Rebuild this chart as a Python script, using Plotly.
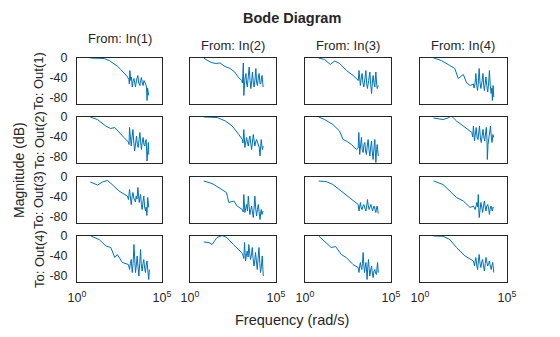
import numpy as np
import plotly.graph_objects as go
from plotly.subplots import make_subplots

# ---- data: log10(frequency in rad/s) and magnitude (dB) per I/O pair ----
w11 = [0.78,1.0,1.3,1.6,1.9,2.18,2.4,2.57,2.8,2.96,3.05,3.08,3.11,3.16,3.2,3.25,3.3,3.35,3.4,3.44,3.5,3.54,3.58,3.63,3.7,3.74,3.79,3.84,3.89,3.94,3.99,4.04,4.09,4.12,4.15,4.18,4.22]
m11 = [0,0,0,-1,-5,-11,-17,-23,-31,-37,-43,-52,-25,-45,-38,-58,-46,-41,-50,-58,-44,-40,-35,-50,-55,-45,-39,-50,-55,-45,-48,-52,-58,-85,-60,-65,-75]

w12 = [0.79,1.17,1.46,1.75,2.04,2.33,2.6,2.8,3.0,3.05,3.1,3.13,3.18,3.25,3.29,3.33,3.38,3.44,3.49,3.54,3.58,3.63,3.68,3.73,3.78,3.83,3.87,3.92,3.97,4.02,4.07,4.12,4.16,4.19,4.25]
m12 = [0,-8,-11,-10,-17,-21,-28,-38,-45,-50,-10,-75,-45,-31,-50,-58,-40,-18,-45,-61,-48,-28,-50,-58,-42,-21,-48,-55,-40,-31,-52,-51,-38,-35,-58]

w13 = [0.8,1.14,1.47,1.73,2.02,2.41,2.8,3.1,3.14,3.18,3.22,3.27,3.32,3.37,3.42,3.48,3.54,3.58,3.63,3.7,3.77,3.82,3.87,3.92,3.96,4.01,4.06,4.09,4.12,4.16,4.2,4.26]
m13 = [0,-3,-13,-6,-11,-25,-35,-45,-25,-48,-55,-40,-31,-50,-58,-42,-25,-50,-61,-45,-28,-52,-71,-48,-35,-50,-58,-40,-28,-50,-61,-55]

w14 = [0.78,1.23,1.71,2.0,2.2,2.49,2.68,2.88,3.07,3.1,3.13,3.17,3.21,3.26,3.31,3.35,3.4,3.45,3.5,3.56,3.62,3.66,3.7,3.75,3.79,3.84,3.89,3.94,3.99,4.04,4.09,4.13,4.16,4.2,4.24]
m14 = [0,-5,-15,-21,-41,-33,-50,-55,-52,-60,-58,-48,-31,-55,-65,-50,-21,-50,-61,-48,-31,-55,-65,-50,-38,-55,-68,-52,-25,-55,-71,-60,-85,-55,-78]

w21 = [0.78,1.2,1.69,1.98,2.22,2.47,2.76,3.02,3.06,3.09,3.14,3.19,3.24,3.29,3.34,3.39,3.45,3.5,3.55,3.6,3.65,3.7,3.75,3.79,3.84,3.89,3.94,3.99,4.03,4.07,4.12,4.16,4.2,4.22]
m21 = [0,-5,-18,-23,-21,-31,-41,-50,-55,-21,-45,-58,-40,-25,-50,-68,-52,-38,-55,-61,-45,-31,-52,-65,-50,-41,-55,-58,-48,-45,-88,-60,-51,-75]

w22 = [0.8,1.3,1.58,2.06,2.45,2.84,3.04,3.08,3.13,3.19,3.24,3.29,3.34,3.39,3.44,3.48,3.53,3.58,3.63,3.68,3.73,3.77,3.82,3.87,3.92,3.97,4.02,4.07,4.11,4.14,4.19,4.22,4.25]
m22 = [0,0,-1,-8,-18,-35,-45,-52,-25,-61,-48,-41,-50,-58,-45,-38,-52,-65,-50,-35,-48,-58,-50,-45,-50,-55,-60,-78,-55,-45,-60,-65,-58]

w23 = [0.8,1.14,1.62,2.01,2.21,2.4,2.7,2.99,3.09,3.13,3.18,3.23,3.28,3.33,3.38,3.43,3.48,3.52,3.57,3.62,3.67,3.72,3.77,3.82,3.87,3.91,3.96,4.01,4.06,4.09,4.12,4.16,4.2,4.26]
m23 = [0,-5,-15,-28,-45,-48,-55,-65,-62,-31,-75,-60,-41,-65,-71,-55,-51,-68,-75,-58,-45,-65,-78,-60,-48,-70,-85,-62,-45,-70,-91,-65,-55,-78]

w24 = [0.78,1.32,1.61,1.81,2.1,2.49,2.98,3.03,3.07,3.13,3.18,3.23,3.28,3.33,3.38,3.42,3.47,3.52,3.57,3.62,3.67,3.72,3.77,3.81,3.85,3.87,3.91,3.95,4.0,4.05,4.1,4.14,4.19,4.24]
m24 = [-2,-5,-2,2,-8,-18,-31,-40,-18,-48,-35,-21,-40,-45,-30,-18,-42,-51,-38,-25,-40,-48,-32,-21,-45,-85,-55,-41,-30,-18,-40,-51,-35,-41]

w31 = [0.78,1.21,1.5,1.79,2.07,2.47,2.96,3.03,3.09,3.14,3.19,3.24,3.29,3.34,3.39,3.44,3.48,3.53,3.58,3.62,3.66,3.7,3.74,3.79,3.83,3.88,3.93,3.98,4.03,4.07,4.11,4.16,4.22]
m31 = [-10,-16,-10,-7,-15,-28,-38,-45,-25,-48,-55,-40,-31,-42,-45,-50,-38,-44,-21,-40,-51,-42,-35,-55,-65,-50,-38,-60,-68,-60,-77,-41,-61]

w32 = [0.8,1.28,1.75,2.12,2.26,2.55,2.74,3.04,3.09,3.13,3.19,3.24,3.29,3.34,3.39,3.44,3.48,3.53,3.58,3.63,3.68,3.73,3.77,3.82,3.87,3.92,3.97,4.02,4.07,4.11,4.14,4.18,4.22,4.25]
m32 = [-8,-13,-23,-31,-51,-48,-58,-65,-70,-35,-71,-62,-55,-68,-38,-60,-75,-65,-58,-70,-81,-60,-38,-62,-78,-65,-55,-70,-85,-72,-65,-75,-71,-68]

w33 = [0.8,1.23,1.62,2.21,2.79,3.09,3.14,3.18,3.22,3.27,3.32,3.37,3.42,3.48,3.54,3.58,3.63,3.68,3.73,3.78,3.83,3.88,3.93,3.97,4.02,4.07,4.12,4.16,4.2,4.26]
m33 = [-8,-9,-15,-31,-48,-55,-68,-58,-51,-62,-65,-58,-55,-62,-68,-60,-45,-58,-65,-60,-55,-62,-68,-62,-58,-65,-71,-62,-58,-73]

w34 = [0.78,1.32,1.71,2.1,2.49,2.88,3.07,3.12,3.17,3.22,3.27,3.31,3.35,3.4,3.45,3.5,3.55,3.6,3.65,3.7,3.75,3.79,3.84,3.89,3.94,3.99,4.04,4.09,4.13,4.16,4.2,4.24]
m34 = [-8,-15,-28,-41,-48,-61,-58,-62,-65,-58,-51,-60,-35,-81,-62,-51,-60,-71,-58,-48,-60,-68,-58,-55,-62,-75,-62,-58,-66,-68,-60,-61]

w41 = [0.82,1.3,1.7,1.99,2.22,2.37,2.67,3.02,3.06,3.09,3.14,3.19,3.25,3.3,3.35,3.4,3.44,3.49,3.54,3.59,3.64,3.69,3.74,3.78,3.83,3.88,3.93,3.98,4.03,4.07,4.12,4.17,4.22,4.26]
m41 = [0,-7,-20,-23,-43,-37,-53,-57,-62,-67,-55,-47,-73,-55,-17,-50,-73,-58,-40,-62,-80,-55,-27,-58,-70,-55,-47,-65,-73,-58,-50,-70,-87,-67]

w42 = [0.8,1.1,1.28,1.57,1.86,2.14,2.52,3.0,3.08,3.13,3.17,3.23,3.28,3.33,3.38,3.42,3.47,3.52,3.57,3.62,3.67,3.72,3.77,3.81,3.86,3.91,3.96,4.01,4.06,4.1,4.15,4.2,4.23,4.26]
m42 = [-12,-13,-17,-3,1,-3,-17,-33,-38,-45,-13,-50,-38,-30,-42,-17,-35,-47,-38,-23,-45,-60,-48,-33,-50,-67,-45,-23,-55,-73,-60,-40,-60,-80]

w43 = [0.8,1.13,1.52,1.78,2.11,2.4,2.79,3.09,3.14,3.18,3.22,3.26,3.3,3.34,3.38,3.42,3.46,3.5,3.54,3.58,3.61,3.65,3.69,3.73,3.77,3.82,3.87,3.91,3.96,4.01,4.06,4.11,4.16,4.19,4.22,4.26]
m43 = [0,-10,-23,-21,-37,-43,-57,-63,-73,-60,-53,-62,-67,-55,-33,-58,-73,-62,-53,-70,-87,-62,-47,-65,-80,-68,-60,-72,-83,-70,-67,-75,-77,-62,-53,-73]

w44 = [0.78,1.32,1.71,2.1,2.59,3.07,3.1,3.13,3.17,3.21,3.26,3.31,3.35,3.4,3.45,3.5,3.55,3.6,3.65,3.7,3.75,3.79,3.84,3.89,3.94,3.99,4.04,4.09,4.14,4.18,4.21,4.24]
m44 = [0,-0.5,-7,-23,-40,-50,-55,-60,-50,-43,-58,-67,-52,-37,-55,-63,-52,-47,-60,-70,-55,-43,-52,-60,-55,-50,-60,-67,-58,-53,-62,-73]

inputs = ["From: In(1)", "From: In(2)", "From: In(3)", "From: In(4)"]
outputs = ["To: Out(1)", "To: Out(2)", "To: Out(3)", "To: Out(4)"]
ytick_vals = [0, -40, -80]
ytick_text = ["0", "-40", "-80"]
xtick_vals = [1, 1e5]
xtick_text = ["10<sup>0</sup>", "10<sup>5</sup>"]

curves = [[(w11, m11), (w12, m12), (w13, m13), (w14, m14)],
          [(w21, m21), (w22, m22), (w23, m23), (w24, m24)],
          [(w31, m31), (w32, m32), (w33, m33), (w34, m34)],
          [(w41, m41), (w42, m42), (w43, m43), (w44, m44)]]

# ---- layout ----
W, H = 560, 337
col_px = [(77, 162), (190, 276), (305, 391), (420, 507)]
row_px = [(58, 104), (117, 163), (177, 223), (236, 282)]
FONT = "Liberation Sans, Arial, sans-serif"
TXT = "#262626"
BLUE = "#0072BD"

fig = make_subplots(rows=4, cols=4)
for r in range(4):
    for c in range(4):
        w, m = curves[r][c]
        fig.add_trace(go.Scatter(x=10 ** np.array(w), y=m, mode="lines",
                                 line=dict(color=BLUE, width=1),
                                 showlegend=False, hoverinfo="skip"),
                      row=r + 1, col=c + 1)
        x0, x1 = col_px[c]
        y0, y1 = row_px[r]
        fig.update_xaxes(type="log", range=[0, 5], domain=[x0 / W, x1 / W],
                         automargin=False,
                         showgrid=False, zeroline=False, showline=True, mirror=True,
                         linecolor=TXT, linewidth=1, ticks="",
                         tickvals=xtick_vals, ticktext=xtick_text,
                         showticklabels=(r == 3), ticklabelstandoff=4,
                         tickfont=dict(family=FONT, size=12.5, color=TXT),
                         row=r + 1, col=c + 1)
        fig.update_yaxes(range=[-92, 0], domain=[1 - y1 / H, 1 - y0 / H],
                         automargin=False,
                         showgrid=False, zeroline=False, showline=True, mirror=True,
                         linecolor=TXT, linewidth=1, ticks="",
                         tickvals=ytick_vals, ticktext=ytick_text,
                         showticklabels=(c == 0), ticklabelstandoff=6,
                         tickfont=dict(family=FONT, size=12.5, color=TXT),
                         row=r + 1, col=c + 1)

ann = []
ann.append(dict(text="<b>Bode Diagram</b>", x=292 / W, y=1 - 18 / H, xref="paper", yref="paper",
                showarrow=False, font=dict(family=FONT, size=14.5, color=TXT),
                xanchor="center", yanchor="middle"))
col_title_y = [38, 45, 45, 45]
for c in range(4):
    x0, x1 = col_px[c]
    ann.append(dict(text=inputs[c], x=(x0 + x1) / 2 / W, y=1 - col_title_y[c] / H,
                    xref="paper", yref="paper", showarrow=False,
                    font=dict(family=FONT, size=13, color=TXT),
                    xanchor="center", yanchor="middle"))
for r in range(4):
    y0, y1 = row_px[r]
    ann.append(dict(text=outputs[r], x=39 / W, y=1 - (y0 + y1) / 2 / H,
                    xref="paper", yref="paper", showarrow=False, textangle=-90,
                    font=dict(family=FONT, size=13, color=TXT),
                    xanchor="center", yanchor="middle"))
ann.append(dict(text="Magnitude (dB)", x=19 / W, y=1 - 170 / H, xref="paper", yref="paper",
                showarrow=False, textangle=-90, font=dict(family=FONT, size=14, color=TXT),
                xanchor="center", yanchor="middle"))
ann.append(dict(text="Frequency (rad/s)", x=292 / W, y=1 - 320 / H, xref="paper", yref="paper",
                showarrow=False, font=dict(family=FONT, size=14.5, color=TXT),
                xanchor="center", yanchor="middle"))

fig.update_layout(width=W, height=H, margin=dict(l=0, r=0, t=0, b=0),
                  paper_bgcolor="white", plot_bgcolor="white",
                  annotations=ann, showlegend=False)

fig.write_html("out.html")
